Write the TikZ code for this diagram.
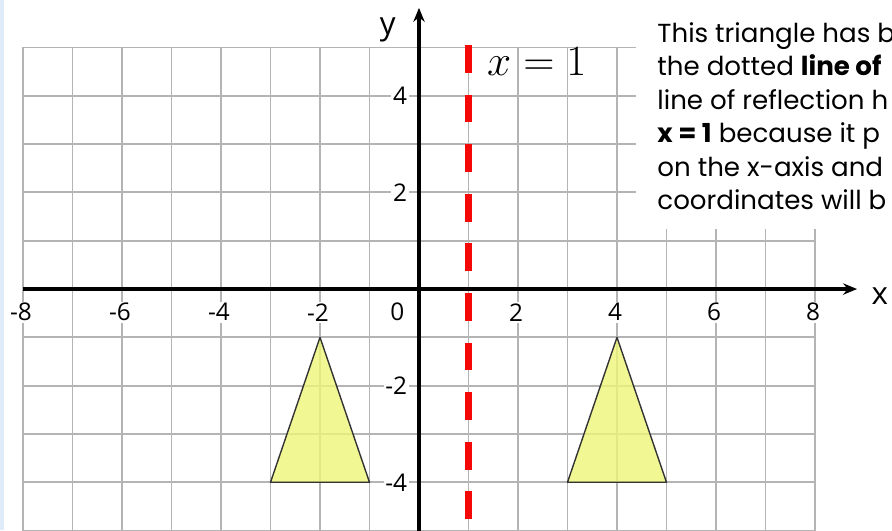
\documentclass[tikz,border=0pt]{standalone}
\usepackage[no-math]{fontspec}
\setmainfont{Poppins}
\newfontfamily\tickfont{Open Sans}
\usepackage{tikz}
\usetikzlibrary{arrows.meta}
\definecolor{gridgray}{RGB}{180,180,180}
\definecolor{linered}{RGB}{244,8,8}
\definecolor{trifill}{RGB}{238,245,120}
\definecolor{edgeblue}{RGB}{222,236,250}

\begin{document}
\begin{tikzpicture}[x=1cm, y=0.976cm,
  gridline/.style={gridgray, line width=1.1pt},
  axis/.style={line width=1.9pt, -{Stealth[length=8pt, width=6.5pt]}},
  tick/.style={font=\tickfont\fontsize{14}{14}\selectfont, fill=white, inner sep=1pt},
  axlab/.style={font=\tickfont\fontsize{18}{18}\selectfont, inner sep=0pt},
  mirror/.style={linered, line width=4.3pt, dash pattern=on 16pt off 12.5pt},
  tri/.style={fill=trifill, fill opacity=0.8, draw=black!80, line width=0.8pt, line join=round},
  body/.style={font=\fontsize{15}{18}\selectfont, anchor=base west, inner sep=0pt}
]
  \useasboundingbox (-8.465,-4.99) rectangle (9.556,5.983);
  \clip (-8.465,-4.99) rectangle (9.556,5.983);
  \fill[white] (-8.465,-4.99) rectangle (9.556,5.983);
  \fill[edgeblue] (-8.465,-4.99) rectangle (-8.39,5.983);
  % ---------------- grid ----------------
  \foreach \gx in {-8,...,8} \draw[gridline] (\gx,-5.2) -- (\gx,5);
  \foreach \gy in {-5,...,5} \draw[gridline] (-8,\gy) -- (8,\gy);
  % ---------------- triangles ----------------
  \draw[tri] (-2,-1) -- (-3,-4) -- (-1,-4) -- cycle;
  \draw[tri] (4,-1) -- (3,-4) -- (5,-4) -- cycle;
  % ---------------- line of reflection ----------------
  \coordinate (mtop) at (1,5.05);
  \coordinate (mbot) at (1,-5.3);
  \draw[mirror] (mtop) -- (mbot);
  \node[font=\fontsize{24}{28}\selectfont, anchor=base west, inner sep=0pt] (mlab) at (1.37,4.43) {$x = 1$};
  % ---------------- axes ----------------
  \coordinate (xstart) at (-8,0);
  \coordinate (xend) at (8.85,0);
  \coordinate (ystart) at (0,-5.3);
  \coordinate (yend) at (0,5.82);
  \draw[axis] (xstart) -- (xend);
  \draw[axis] (ystart) -- (yend);
  \node[axlab] (xname) at (9.31,-0.14) {x};
  \node[axlab] (yname) at (-0.63,5.36) {y};
  % tick labels
  \foreach \v in {-8,-6,-4,-2,2,4,6,8}
    \node[tick] (xl\v) at (\v-0.04,-0.48) {\v};
  \node[tick] (xl0) at (-0.44,-0.48) {0};
  \foreach \v in {4,2,-2,-4}
    \node[tick, anchor=east] (yl\v) at (-0.2,\v) {\v};
  % ---------------- explanation (cut off at the right) ----------------
  \fill[white] (4.38,1.24) rectangle (9.6,6.1);
  \node[body] (t1) at (4.81,5.11) {This triangle has b};
  \node[body] (t2) at (4.81,4.416) {the dotted \textbf{line of}};
  \node[body] (t3) at (4.81,3.722) {line of reflection h};
  \node[body] (t4) at (4.81,3.028) {\textbf{x = 1} because it p};
  \node[body] (t5) at (4.81,2.334) {on the x-axis and};
  \node[body] (t6) at (4.81,1.64) {coordinates will b};
\end{tikzpicture}
\end{document}
